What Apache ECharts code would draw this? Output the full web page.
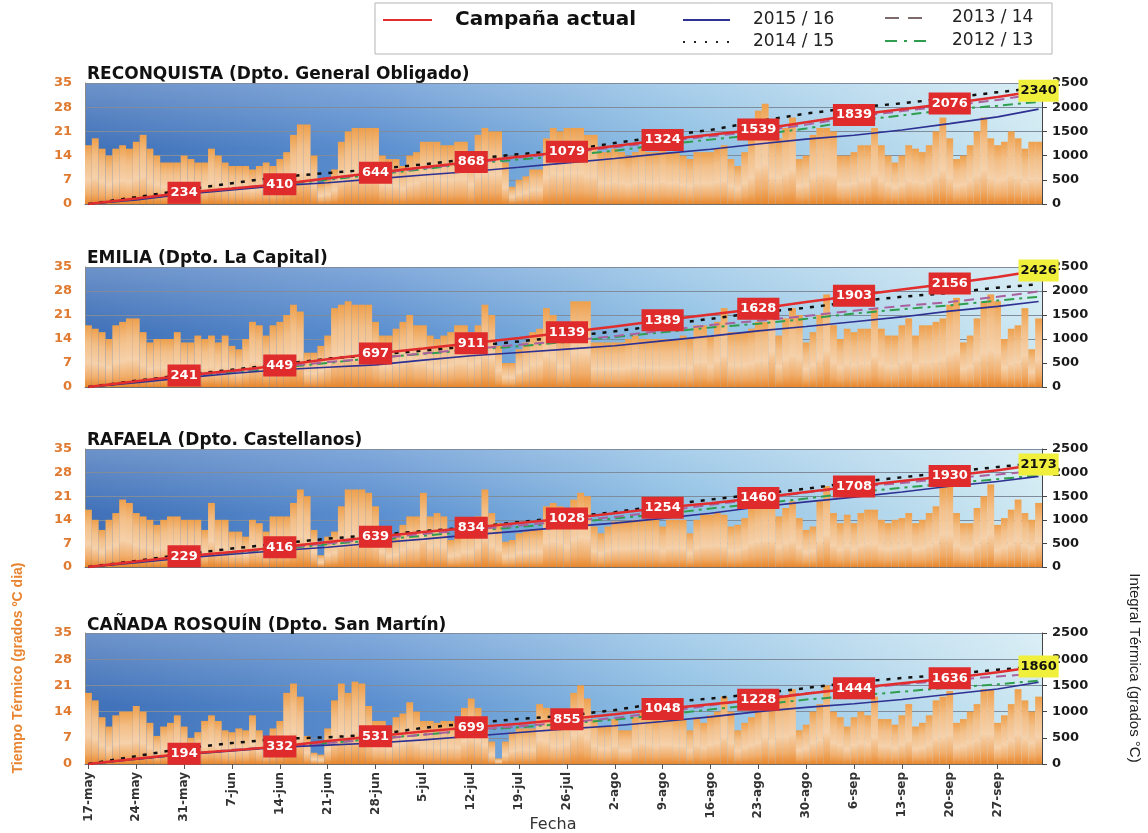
<!DOCTYPE html>
<html><head><meta charset="utf-8">
<script src="https://cdn.jsdelivr.net/npm/echarts@6/dist/echarts.min.js"></script>
<style>html,body{margin:0;padding:0;background:#fff}#c{width:1148px;height:833px}</style>
</head><body><div id="c"></div>
<script>
// ---- categories (dates 17-may .. 3-oct) ----
const monthNames = ['may','jun','jul','ago','sep','oct'];
const monthDays = [31,30,31,31,30,31];
const categories = [];
{ let m = 0, d = 17; for (let k = 0; k < 140; k++) { categories.push(d + '-' + monthNames[m]); d++; if (d > monthDays[m]) { d = 1; m++; } } }

const panelTitles = ['RECONQUISTA (Dpto. General Obligado)','EMILIA (Dpto. La Capital)','RAFAELA (Dpto. Castellanos)','CAÑADA ROSQUÍN (Dpto. San Martín)'];
const seriesNames = ['Campaña actual','2015 / 16','2014 / 15','2013 / 14','2012 / 13'];

// ---- daily thermal time (bars) ----
const barsReconquista = [17,19,16,14,16,17,16,18,20,16,
 14,12,12,12,14,13,12,12,16,14,
 12,11,11,11,10,11,12,11,13,15,
 20,23,23,14,6,7,10,18,21,22,
 22,22,22,14,13,13,11,14,15,18,
 18,18,17,17,18,18,14,20,22,21,
 21,12,5,7,8,10,10,19,22,21,
 22,22,22,20,20,15,15,16,15,14,
 15,16,15,15,16,15,15,14,13,15,
 15,15,16,17,13,11,15,19,27,29,
 20,19,22,25,13,14,20,22,22,21,
 14,14,15,17,17,22,17,14,12,14,
 17,16,15,17,21,25,19,13,14,17,
 21,25,19,17,18,21,19,16,18,18];
const barsEmilia = [18,17,16,14,18,19,20,20,16,13,
 14,14,14,16,13,13,15,14,15,13,
 15,12,11,14,19,18,15,18,19,21,
 24,22,10,10,12,15,23,24,25,24,
 24,24,19,15,15,17,19,21,18,18,
 15,14,15,16,18,18,16,18,24,21,
 12,7,7,11,13,16,17,23,21,15,
 15,25,25,25,13,13,13,13,13,14,
 15,14,14,14,14,14,14,15,14,18,
 18,15,19,23,16,16,16,17,19,19,
 26,15,20,23,21,13,16,21,27,18,
 14,17,16,17,17,23,17,15,15,18,
 20,15,18,18,19,20,24,26,13,15,
 20,25,27,25,14,17,18,23,11,20];
const barsRafaela = [17,14,11,14,16,20,19,16,15,14,
 12.5,14,15,15,14,14,14,11,19,14,
 14,10.5,10.5,9,14,13,10.5,15,15,15,
 19,23,21,11,3.5,9,10.5,18,23,23,
 23,22,18,11,8,9,12.5,15,15,22,
 15,16,15,8,9,11,11,15,23,16,
 13,7.5,8,10,10.5,11,11,18,19,18,
 15,20,22,21,12,10,12,13.5,13.5,13.5,
 14,14,14,14,12,14,14,14,10,14,
 15.5,15.5,16,15.5,12,12.5,14.5,17.5,19,20,
 20,15,17.5,19.5,14.5,11,12,19.5,24,16,
 13,15.5,13,16,17,17,14,13,14,14.5,
 16,13,14,16,18,24,24,16,13,13,
 17.5,21,24.5,12.5,14.5,17,20,16,14,19];
const barsCanada = [19,17,12.5,10,13,14,14,15.5,14,11,
 7.5,10,11,13,10,7,8.5,11.5,13,11.5,
 9,8.5,9.5,9,13,9,7,9.5,11.5,19,
 21.5,18,7.5,3,2.5,9.5,17,21.5,19,22,
 21.5,15.5,11.5,11.5,10,12.5,13.5,16.5,14,11.5,
 11.5,11,11.5,11.5,11,15,17.5,15,12.5,6,
 1.5,6,8.5,9.5,9.5,9.5,16,15,12,12,
 13,19,21,17.5,12,10,10,12,9,9,
 12.5,14,13,12,13,13,12,12,9,12.5,
 11,13,14,18,14,9,11,12.5,14,18,
 14.5,18,18,20,9,10.5,14,16,21,14,
 12.5,10,12.5,14,13,18,12,12,10.5,13,
 16,10,11,13,17,18,19.5,11,12,14,
 16,20,20,11,13,16,20,17,14,18];

// ---- accumulated thermal time, read weekly (day index below) ----
const lineDays = [0,7,14,21,28,35,42,49,56,63,70,77,84,91,98,105,112,119,126,133,139];

const recActual = [0,115,234,320,410,530,644,760,868,975,1079,1200,1324,1430,1539,1690,1839,1960,2076,2210,2340];
const rec1516   = [0,85,200,290,380,440,520,600,673,760,850,940,1040,1130,1240,1340,1420,1530,1660,1800,1960];
const rec1415   = [0,140,290,430,560,640,720,820,930,1030,1110,1260,1400,1530,1710,1870,1990,2080,2190,2310,2400];
const rec1314   = [0,110,225,320,410,520,630,740,850,960,1060,1170,1290,1400,1500,1640,1800,1920,2030,2150,2280];
const rec1213   = [0,100,215,310,400,500,610,720,840,920,1000,1100,1230,1330,1430,1560,1720,1830,1950,2030,2110];

const emiActual = [0,120,241,340,449,580,697,800,911,1020,1139,1260,1389,1510,1628,1770,1903,2030,2156,2290,2426];
const emi1516   = [0,90,190,280,360,410,460,560,650,720,790,860,960,1060,1170,1260,1360,1460,1580,1680,1780];
const emi1415   = [0,130,250,360,470,590,670,760,850,950,1050,1160,1290,1420,1550,1650,1780,1880,1960,2070,2140];
const emi1314   = [0,110,220,320,420,520,600,700,790,880,960,1060,1170,1290,1380,1480,1590,1690,1770,1880,1990];
const emi1213   = [0,105,210,300,400,500,610,690,770,850,940,1040,1140,1240,1320,1420,1530,1620,1700,1800,1880];

const rafActual = [0,115,229,320,416,530,639,740,834,930,1028,1140,1254,1350,1460,1590,1708,1820,1930,2050,2173];
const raf1516   = [0,90,190,270,350,420,510,590,680,760,850,930,1030,1140,1270,1380,1480,1590,1710,1810,1920];
const raf1415   = [0,130,270,390,500,600,680,760,840,950,1060,1160,1310,1430,1540,1660,1790,1900,2010,2120,2200];
const raf1314   = [0,105,215,310,400,500,600,700,790,880,970,1060,1180,1320,1440,1580,1690,1780,1880,1960,2040];
const raf1213   = [0,100,205,300,390,480,570,660,760,850,930,1030,1120,1240,1340,1450,1580,1680,1770,1860,1940];

const canActual = [0,100,194,260,332,440,531,620,699,770,855,950,1048,1140,1228,1340,1444,1540,1636,1750,1860];
const can1516   = [0,90,180,250,320,360,400,460,530,600,670,730,810,900,1000,1080,1150,1230,1330,1430,1560];
const can1415   = [0,150,300,400,480,510,560,690,780,860,920,1030,1170,1250,1340,1450,1560,1640,1710,1800,1860];
const can1314   = [0,100,190,270,330,400,470,560,650,720,790,880,990,1120,1250,1350,1440,1520,1600,1670,1730];
const can1213   = [0,95,185,260,330,400,480,560,640,700,770,850,940,1040,1130,1230,1300,1380,1460,1520,1590];

const leftMax = 35, leftStep = 7, rightMax = 2500, rightStep = 500;

// ---- assemble ----
const barSets = [barsReconquista, barsEmilia, barsRafaela, barsCanada];
const lineSets = [
  [recActual, rec1516, rec1415, rec1314, rec1213],
  [emiActual, emi1516, emi1415, emi1314, emi1213],
  [rafActual, raf1516, raf1415, raf1314, raf1213],
  [canActual, can1516, can1415, can1314, can1213]
];

const layout = [
  {top:83, height:121, titleTop:66},
  {top:267, height:120, titleTop:250},
  {top:449, height:118, titleTop:432},
  {top:633, height:131, titleTop:617}
];
const GL = 85, GW = 957;
const FONT = 'DejaVu Sans';

const lineStyles = [
  {color:'#e12d2d', width:2.5, type:'solid'},
  {color:'#2e3192', width:1.6, type:'solid'},
  {color:'#111111', width:2.5, type:[4,7]},
  {color:'#a8609e', width:2, type:[10,6]},
  {color:'#2f9e4f', width:2, type:[10,5,3,5]}
];

const barGrad = {type:'linear', x:0, y:0, x2:0, y2:1, colorStops:[
  {offset:0, color:'#eea04c'}, {offset:0.28, color:'#f3bf88'}, {offset:0.6, color:'#f6d1aa'},
  {offset:0.84, color:'#f1ad6a'}, {offset:1, color:'#e8862b'}]};
const bgGrad = {type:'linear', x:0, y:0, x2:1, y2:0, colorStops:[
  {offset:0, color:'#3f70b8'}, {offset:0.3, color:'#5a8ecf'}, {offset:0.62, color:'#8fc0e4'}, {offset:1, color:'#cfe9f2'}]};
const bgOverlay = {type:'linear', x:0, y:0, x2:0, y2:1, colorStops:[
  {offset:0, color:'rgba(255,255,255,0.24)'}, {offset:0.55, color:'rgba(255,255,255,0)'}, {offset:1, color:'rgba(255,255,255,0)'}]};

const grids = [], xAxes = [], yAxes = [], series = [], titles = [], graphics = [];

layout.forEach((L, i) => {
  grids.push({left:GL, width:GW, top:L.top, height:L.height, show:false});
  graphics.push({type:'rect', z:-10, silent:true, shape:{x:GL, y:L.top, width:GW, height:L.height}, style:{fill:bgGrad}});
  graphics.push({type:'rect', z:-9, silent:true, shape:{x:GL, y:L.top, width:GW, height:L.height}, style:{fill:bgOverlay}});
  titles.push({text:panelTitles[i], left:87, top:L.titleTop, padding:0,
    textStyle:{fontFamily:FONT, fontWeight:'bold', fontSize:17, color:'#111'}});
  const last = i === 3;
  xAxes.push({type:'category', gridIndex:i, data:categories, boundaryGap:true,
    axisLine:{show:true, lineStyle:{color:'#6f6f6f'}},
    axisTick: last ? {show:true, interval:6, alignWithLabel:true, length:5, lineStyle:{color:'#555'}} : {show:false},
    axisLabel: last ? {show:true, rotate:90, interval:6, fontFamily:FONT, fontWeight:'bold', fontSize:12, color:'#333', margin:8} : {show:false},
    splitLine:{show:false}});
  yAxes.push({type:'value', gridIndex:i, position:'left', min:0, max:leftMax, interval:leftStep,
    axisLine:{show:true, lineStyle:{color:'#8a8a8a'}}, axisTick:{show:false},
    axisLabel:{color:'#e07a30', fontFamily:FONT, fontWeight:'bold', fontSize:13, margin:13, formatter:v => String(v)},
    splitLine:{show:true, lineStyle:{color:'#7f8c9b', width:1}}});
  yAxes.push({type:'value', gridIndex:i, position:'right', min:0, max:rightMax, interval:rightStep,
    axisLine:{show:true, lineStyle:{color:'#444'}}, axisTick:{show:true, length:5, lineStyle:{color:'#444'}},
    axisLabel:{color:'#1a1a1a', fontFamily:FONT, fontWeight:'bold', fontSize:13, margin:10, formatter:v => String(v)},
    splitLine:{show:false}});

  series.push({type:'bar', name:'Tiempo térmico', xAxisIndex:i, yAxisIndex:2*i, data:barSets[i],
    barCategoryGap:'0%', barGap:'0%', itemStyle:{color:barGrad}, silent:true, z:2});

  // draw order: green, dashed, blue, dotted, red on top
  [4,3,1,2,0].forEach(k => {
    const vals = lineSets[i][k];
    const s = {type:'line', name:seriesNames[k], xAxisIndex:i, yAxisIndex:2*i+1,
      data: lineDays.map((d, j) => [d, vals[j]]), symbol:'none', silent:true,
      lineStyle:{color:lineStyles[k].color, width:lineStyles[k].width, type:lineStyles[k].type}, z: 3 + (k === 0 ? 2 : 0)};
    if (k === 0) {
      const mp = [];
      lineDays.forEach((d, j) => {
        const isLast = j === lineDays.length - 1;
        if ((d > 0 && d % 14 === 0) || isLast) {
          const item = {coord:[d, vals[j]], value: vals[j]};
          if (isLast) item.label = {backgroundColor:'#f0ef3c', color:'#111', padding:[5,2,4,2]};
          mp.push(item);
        }
      });
      s.markPoint = {symbol:'rect', symbolSize:1, itemStyle:{color:'rgba(0,0,0,0)'}, silent:true, z:10,
        label:{show:true, position:'inside', formatter:'{c}', backgroundColor:'#df2b2b', color:'#fff',
          fontFamily:FONT, fontWeight:'bold', fontSize:13, padding:[5,3,4,3]},
        data: mp};
    }
    series.push(s);
  });
});

// legend box
const LY1 = 20, LY2 = 42;
graphics.push(
  {type:'rect', z:100, shape:{x:375, y:3, width:677, height:51}, style:{fill:'#fff', stroke:'#b5b5b5', lineWidth:1}},
  {type:'line', z:101, shape:{x1:383, y1:LY1, x2:432, y2:LY1}, style:{stroke:lineStyles[0].color, lineWidth:2}},
  {type:'text', z:101, x:455, y:LY1, style:{text:seriesNames[0], font:'bold 20px "DejaVu Sans"', fill:'#111', textVerticalAlign:'middle'}},
  {type:'line', z:101, shape:{x1:683, y1:LY1, x2:730, y2:LY1}, style:{stroke:lineStyles[1].color, lineWidth:2}},
  {type:'text', z:101, x:753, y:LY1, style:{text:seriesNames[1], font:'17px "DejaVu Sans"', fill:'#222', textVerticalAlign:'middle'}},
  {type:'line', z:101, shape:{x1:885, y1:LY1-2, x2:930, y2:LY1-2}, style:{stroke:'#7d6b6b', lineWidth:2, lineDash:[14,9]}},
  {type:'text', z:101, x:952, y:LY1-2, style:{text:seriesNames[3], font:'17px "DejaVu Sans"', fill:'#222', textVerticalAlign:'middle'}},
  {type:'line', z:101, shape:{x1:683, y1:LY2, x2:730, y2:LY2}, style:{stroke:'#222', lineWidth:2, lineDash:[2,9]}},
  {type:'text', z:101, x:753, y:LY2, style:{text:seriesNames[2], font:'17px "DejaVu Sans"', fill:'#222', textVerticalAlign:'middle'}},
  {type:'line', z:101, shape:{x1:885, y1:LY2-1, x2:930, y2:LY2-1}, style:{stroke:lineStyles[4].color, lineWidth:2, lineDash:[12,7,3,7]}},
  {type:'text', z:101, x:952, y:LY2-1, style:{text:seriesNames[4], font:'17px "DejaVu Sans"', fill:'#222', textVerticalAlign:'middle'}},
  // axis names
  {type:'text', z:100, x:18, y:668, rotation:Math.PI/2, style:{text:'Tiempo Térmico (grados ºC dia)', font:'bold 14px Arial, "Liberation Sans"', fill:'#e8842f', textAlign:'center', textVerticalAlign:'middle'}},
  {type:'text', z:100, x:1134, y:668, rotation:-Math.PI/2, style:{text:'Integral Térmica (grados °C)', font:'15px Arial, "Liberation Sans"', fill:'#222', textAlign:'center', textVerticalAlign:'middle'}},
  {type:'text', z:100, x:553, y:825, style:{text:'Fecha', font:'16px "DejaVu Sans"', fill:'#333', textAlign:'center', textVerticalAlign:'middle'}}
);

const chart = echarts.init(document.getElementById('c'), null, {renderer:'canvas'});
chart.setOption({
  animation:false,
  backgroundColor:'#ffffff',
  title: titles,
  grid: grids,
  xAxis: xAxes,
  yAxis: yAxes,
  series: series,
  graphic: graphics
});
</script></body></html>
